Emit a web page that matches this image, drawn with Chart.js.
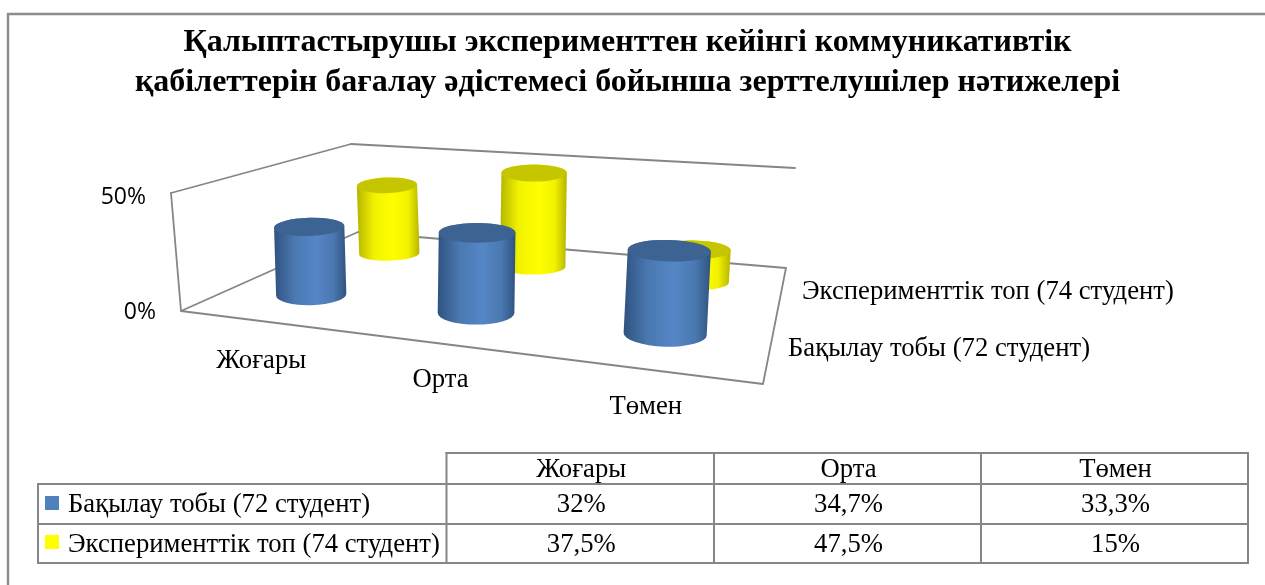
<!DOCTYPE html>
<html><head><meta charset="utf-8">
<style>html,body{margin:0;padding:0;background:#fff;overflow:hidden}#w{width:1265px;height:585px;position:relative}</style>
<script src="https://cdn.jsdelivr.net/npm/chart.js@4/dist/chart.umd.min.js"></script>
</head><body><div id="w"><canvas id="c" width="1265" height="585"></canvas></div>
<script>
const titleLines = ["Қалыптастырушы эксперименттен кейінгі коммуникативтік","қабілеттерін бағалау әдістемесі бойынша зерттелушілер нәтижелері"];
const categories = ["Жоғары","Орта","Төмен"];
const controlName = "Бақылау тобы (72 студент)";
const experimentName = "Эксперименттік топ (74 студент)";
const controlValues = [32,34.7,33.3];
const experimentValues = [37.5,47.5,15];
const axisMax = 50;

const SERIF = '"Liberation Serif"';
const LINE = '#868686';
const floorQuad = [[181,311],[763,384],[786,268],[358,232]];
const wallTop = [[171,193],[351,144],[795,168]];
function homography(q){
  const [[x0,y0],[x1,y1],[x2,y2],[x3,y3]]=q;
  const dx1=x1-x2,dx2=x3-x2,sx=x0-x1+x2-x3,dy1=y1-y2,dy2=y3-y2,sy=y0-y1+y2-y3;
  const d=dx1*dy2-dx2*dy1,g=(sx*dy2-dx2*sy)/d,h=(dx1*sy-sx*dy1)/d;
  const a=x1-x0+g*x1,b=x3-x0+h*x3,c=x0,e=y1-y0+g*y1,f=y3-y0+h*y3,i=y0;
  return (u,v)=>{const w=g*u+h*v+1;return [(a*u+b*v+c)/w,(e*u+f*v+i)/w];};
}
const F=homography(floorQuad);
// full-scale column height on screen at a floor position
function S(u,v){const f=108+32*u,b=80+20*u;return f+(b-f)*v;}
function P(u,v,h){const a=F(u,v);return [a[0]+h*(-5.5+14*u),a[1]-h*S(u,v)];}
function poly(ctx,p){ctx.beginPath();p.forEach((q,i)=>i?ctx.lineTo(q[0],q[1]):ctx.moveTo(q[0],q[1]));ctx.closePath();}
const shades={
  0:{side:['#2f5380','#4a78b0','#5586c6','#4a78b0','#2f5380'],cap:'#3c6391'},
  1:{side:['#b5b500','#f2f200','#ffff00','#f2f200','#b5b500'],cap:'#c6c600'}
};
function drawCylinder(ctx,u,v,h,shade){
  const s=S(u,v),rx=0.332*s,ryB=s*(0.11-0.04*v),ryT=s*0.086,tilt=(u-0.5)*0.09;
  const a=P(u,v,0),b=P(u,v,h);
  const g=ctx.createLinearGradient(Math.min(a[0],b[0])-rx,0,Math.max(a[0],b[0])+rx,0);
  [0,0.28,0.58,0.82,1].forEach((t,i)=>g.addColorStop(t,shade.side[i]));
  ctx.fillStyle=g;
  ctx.beginPath();
  ctx.ellipse(b[0],b[1],rx,ryT,tilt,Math.PI,0,false);
  ctx.ellipse(a[0],a[1],rx,ryB,tilt,0,Math.PI,false);
  ctx.closePath();ctx.fill();
  ctx.beginPath();ctx.ellipse(b[0],b[1],rx,ryT,tilt,0,Math.PI*2);ctx.fillStyle=shade.cap;ctx.fill();
}
function line(ctx,x0,y0,x1,y1){ctx.beginPath();ctx.moveTo(x0,y0);ctx.lineTo(x1,y1);ctx.stroke();}
const pct=v=>String(v).replace('.',',')+'%';
const uOf=(xs,i)=>(xs.getPixelForValue(i)-xs.left)/xs.width;
const vOf=(idx,n)=>(idx+0.5)/n;
const labelNudge=[[-2,2],[-3,-2],[-8,-1]];

const box3d={
  id:'box3d',
  beforeDatasetsDraw(chart){
    const ctx=chart.ctx;ctx.save();
    ctx.strokeStyle=LINE;ctx.lineWidth=1.8;ctx.lineJoin='round';ctx.lineCap='round';
    poly(ctx,floorQuad);ctx.stroke();
    line(ctx,...floorQuad[0],...wallTop[0]);
    line(ctx,...wallTop[0],...wallTop[1]);
    line(ctx,...wallTop[1],...wallTop[2]);
    ctx.restore();
  },
  beforeDatasetDraw(chart,args){
    const ctx=chart.ctx,xs=chart.scales.x,ys=chart.scales.y,n=chart.data.datasets.length;
    ctx.save();
    args.meta.data.forEach((el,i)=>{
      const h=(ys.bottom-el.y)/(ys.bottom-ys.top);
      drawCylinder(ctx,uOf(xs,i),vOf(args.index,n),h,shades[args.index]);
    });
    ctx.restore();
    return false;
  },
  afterDraw(chart){
    const ctx=chart.ctx,xs=chart.scales.x,ys=chart.scales.y;
    ctx.save();
    ctx.strokeStyle='#8c8c8c';ctx.lineWidth=2.4;
    ctx.beginPath();ctx.moveTo(8,590);ctx.lineTo(8,14);ctx.lineTo(1270,14);ctx.stroke();
    ctx.fillStyle='#000';ctx.textBaseline='middle';ctx.textAlign='right';
    ctx.font='23px "Open Sans"';
    ys.ticks.forEach(t=>{
      const h=(ys.bottom-ys.getPixelForValue(t.value))/(ys.bottom-ys.top);
      const x=floorQuad[0][0]+h*(wallTop[0][0]-floorQuad[0][0]),y=floorQuad[0][1]+h*(wallTop[0][1]-floorQuad[0][1]);
      ctx.fillText(pct(t.value),x-25,y+1+3*h);
    });
    ctx.font='26.7px '+SERIF;ctx.textAlign='center';
    categories.forEach((c,i)=>{const p=F(uOf(xs,i)*1.01+0.003,0);ctx.fillText(c,p[0]+labelNudge[i][0],p[1]+38+labelNudge[i][1]);});
    ctx.textAlign='left';
    ctx.fillText(experimentName,802,292);
    ctx.fillText(controlName,788,348.5);
    const X=[446.5,714,981,1248],Y=[453,484,524,563],LX=38;
    ctx.strokeStyle=LINE;ctx.lineWidth=2;ctx.lineCap='square';
    line(ctx,X[0],Y[0],X[3],Y[0]);
    line(ctx,LX,Y[1],X[3],Y[1]);line(ctx,LX,Y[2],X[3],Y[2]);line(ctx,LX,Y[3],X[3],Y[3]);
    line(ctx,LX,Y[1],LX,Y[3]);
    X.forEach(x=>line(ctx,x,Y[0],x,Y[3]));
    ctx.textAlign='center';
    categories.forEach((c,i)=>ctx.fillText(c,(X[i]+X[i+1])/2+1,(Y[0]+Y[1])/2+1));
    controlValues.forEach((v,i)=>ctx.fillText(pct(v),(X[i]+X[i+1])/2+1,(Y[1]+Y[2])/2+1));
    experimentValues.forEach((v,i)=>ctx.fillText(pct(v),(X[i]+X[i+1])/2+1,(Y[2]+Y[3])/2+1));
    ctx.textAlign='left';
    ctx.fillStyle='#4f81bd';ctx.fillRect(45,496,14,14);
    ctx.fillStyle='#ffff00';ctx.fillRect(45,535,14,14);
    ctx.fillStyle='#000';
    ctx.fillText(controlName,68,(Y[1]+Y[2])/2+1);
    ctx.fillText(experimentName,68,(Y[2]+Y[3])/2+1);
    ctx.restore();
  }
};
new Chart(document.getElementById('c'),{
  type:'bar',
  data:{labels:categories,datasets:[
    {label:controlName,data:controlValues,backgroundColor:'#4f81bd'},
    {label:experimentName,data:experimentValues,backgroundColor:'#ffff00'}
  ]},
  plugins:[box3d],
  options:{
    responsive:false,animation:false,
    layout:{padding:{right:10}},
    scales:{
      x:{display:false},
      y:{display:false,min:0,max:axisMax,ticks:{stepSize:axisMax}}
    },
    plugins:{
      legend:{display:false},tooltip:{enabled:false},
      title:{display:true,text:titleLines,color:'#000',padding:{top:23,bottom:10},
        font:{family:SERIF,size:32,weight:'bold',lineHeight:1.25}}
    }
  }
});
</script></body></html>
